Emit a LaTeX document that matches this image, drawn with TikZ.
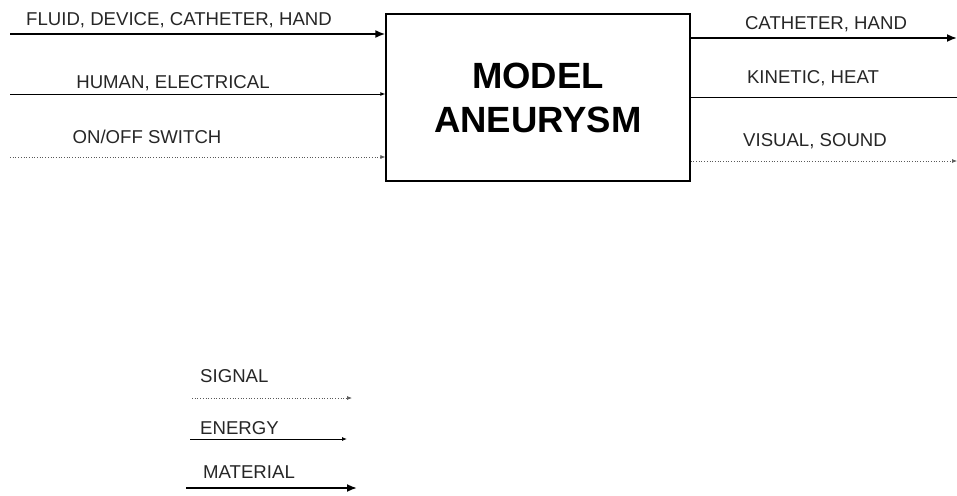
\documentclass[tikz,border=0pt]{standalone}
\usepackage{fontspec}
\setmainfont{Liberation Sans}
\usetikzlibrary{arrows.meta}
\begin{document}
\begin{tikzpicture}[x=1pt,y=-1pt,
  flowlabel/.style={font=\fontsize{18.6}{20}\selectfont, text=black!85, inner sep=0pt, anchor=base},
  material/.style={line width=1.8pt, -{Latex[length=10pt,width=8pt]}},
  energy/.style={line width=0.9pt, -{Latex[length=5pt,width=4pt]}},
  signal/.style={line width=0.7pt, black!65, dotted, -{Latex[length=5pt,width=4pt]}},
]
\useasboundingbox (0,0) rectangle (957,495);

% central function box
\node[draw, line width=1.3pt, minimum width=304pt, minimum height=167pt, inner sep=0pt,
      align=center, font=\fontsize{36.5}{44}\selectfont\bfseries]
  (box) at (538,97.5) {MODEL\\ANEURYSM};

% input flows
\coordinate (inM) at (10,34);
\coordinate (inE) at (10,94);
\coordinate (inS) at (10,157);
\draw[material] (inM) -- (inM -| box.west);
\draw[energy] (inE) -- (inE -| box.west);
\draw[signal] (inS) -- (inS -| box.west);
\node[flowlabel] (lm) at (179,26) {FLUID, DEVICE, CATHETER, HAND};
\node[flowlabel] (le) at (173,88) {HUMAN, ELECTRICAL};
\node[flowlabel] (ls) at (147,143) {ON/OFF SWITCH};

% output flows
\coordinate (outM) at (957,38);
\coordinate (outE) at (965,97);
\coordinate (outS) at (957,161);
\draw[material] (outM -| box.east) -- (outM);
\draw[energy] (outE -| box.east) -- (outE);
\draw[signal] (outS -| box.east) -- (outS);
\node[flowlabel] (om) at (826,30) {CATHETER, HAND};
\node[flowlabel] (oe) at (813,83) {KINETIC, HEAT};
\node[flowlabel] (os) at (815,146) {VISUAL, SOUND};

% legend
\node[flowlabel, anchor=base west] (kS) at (200,382) {SIGNAL};
\coordinate (kS1) at (192,398);
\coordinate (kS2) at (352,398);
\draw[signal] (kS1) -- (kS2);
\node[flowlabel, anchor=base west] (kE) at (200,434) {ENERGY};
\coordinate (kE1) at (190,439);
\coordinate (kE2) at (347,439);
\draw[energy] (kE1) -- (kE2);
\node[flowlabel, anchor=base west] (kM) at (203,478) {MATERIAL};
\coordinate (kM1) at (186,488);
\coordinate (kM2) at (357,488);
\draw[material] (kM1) -- (kM2);
\end{tikzpicture}
\end{document}
